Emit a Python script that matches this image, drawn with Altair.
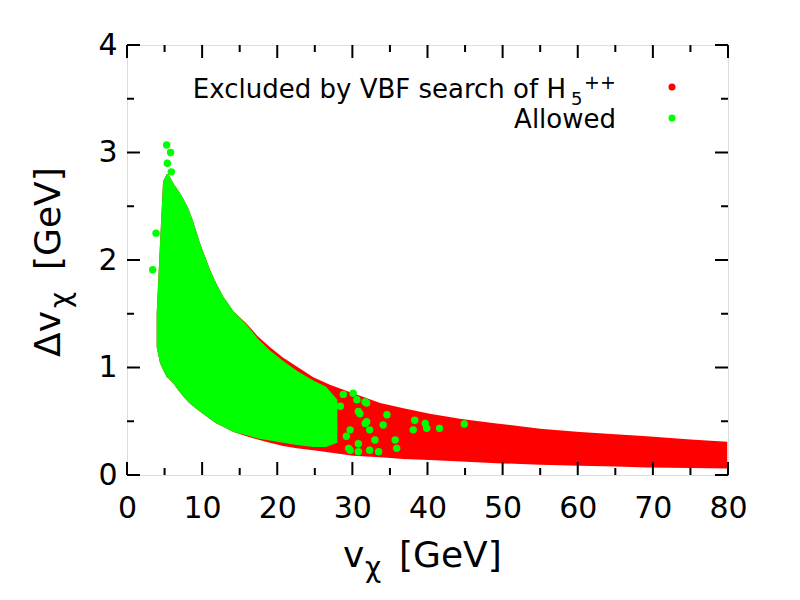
import altair as alt
import pandas as pd

# Band of excluded points (red): envelope
red_v     = [3.95, 4.4, 4.8, 5.3, 5.5, 6.2, 6.8, 7.5, 8.16, 8.8, 9.7, 10.3, 11.05, 11.9, 12.8, 14.2, 15.9, 17.4, 19.0, 20.8, 22.6, 24.8, 27.0, 30.1, 33.7, 36.8, 40.3, 44.5, 49.2, 55.0, 60.3, 65.0, 69.2, 75.0, 79.9]
red_upper = [1.50, 2.16, 2.73, 2.80, 2.80, 2.71, 2.65, 2.57, 2.48, 2.36, 2.16, 2.05, 1.91, 1.78, 1.66, 1.52, 1.41, 1.29, 1.19, 1.09, 1.01, 0.91, 0.84, 0.76, 0.67, 0.62, 0.57, 0.52, 0.48, 0.43, 0.40, 0.38, 0.36, 0.33, 0.31]
red_lower = [1.19, 1.04, 0.98, 0.91, 0.90, 0.85, 0.79, 0.73, 0.68, 0.64, 0.59, 0.56, 0.52, 0.48, 0.45, 0.40, 0.36, 0.33, 0.30, 0.27, 0.25, 0.23, 0.21, 0.18, 0.165, 0.15, 0.14, 0.125, 0.11, 0.095, 0.085, 0.078, 0.07, 0.065, 0.06]

# Solid allowed region (green)
grn_v     = [3.95, 4.4, 4.8, 5.3, 5.5, 6.2, 6.8, 7.5, 8.16, 8.8, 9.7, 10.3, 11.05, 11.9, 12.8, 14.2, 15.9, 17.4, 19.0, 20.8, 22.6, 24.8, 26.5, 28.0]
grn_upper = [1.50, 2.16, 2.73, 2.80, 2.80, 2.71, 2.65, 2.57, 2.48, 2.36, 2.16, 2.05, 1.91, 1.78, 1.66, 1.52, 1.40, 1.27, 1.16, 1.06, 0.97, 0.88, 0.82, 0.70]
grn_lower = [1.19, 1.04, 0.98, 0.91, 0.90, 0.85, 0.79, 0.73, 0.68, 0.64, 0.59, 0.56, 0.52, 0.48, 0.45, 0.40, 0.37, 0.34, 0.32, 0.30, 0.28, 0.26, 0.26, 0.30]

# Individual allowed points outside the solid region
pt_v = [5.28, 5.8, 5.37, 5.9, 3.86, 3.42, 44.9, 41.6, 39.7, 39.9, 38.3, 38.1, 35.7, 35.9, 34.6, 34.1,
        32.3, 33.0, 33.5, 30.8, 29.5, 31.9, 30.8, 31.7, 30.6, 32.3, 28.4, 29.2,
        30.1, 31.9, 31.0, 31.7, 29.7, 30.8, 29.7, 28.8, 27.5]
pt_d = [3.07, 3.00, 2.90, 2.82, 2.25, 1.91, 0.474, 0.434, 0.48, 0.434, 0.51, 0.42, 0.326, 0.248, 0.56, 0.465,
        0.42, 0.326, 0.217, 0.217, 0.248, 0.496, 0.59, 0.68, 0.70, 0.23, 0.64, 0.36,
        0.76, 0.67, 0.57, 0.48, 0.42, 0.29, 0.23, 0.75, 0.45]

x_major = [0, 10, 20, 30, 40, 50, 60, 70, 80]
x_minor = [5, 15, 25, 35, 45, 55, 65, 75]
y_major = [0, 1, 2, 3, 4]
y_minor = [0.5, 1.5, 2.5, 3.5]

FONT = "DejaVu Sans"
W, H = 601, 430

xs = alt.Scale(domain=[0, 80], nice=False, zero=False)
ys = alt.Scale(domain=[0, 4], nice=False, zero=False)

red_df = pd.DataFrame({"v": red_v, "hi": red_upper, "lo": red_lower})
grn_df = pd.DataFrame({"v": grn_v, "hi": grn_upper, "lo": grn_lower})
pts_df = pd.DataFrame({"v": pt_v, "d": pt_d})

xaxis = alt.Axis(values=x_major, ticks=False, domain=False, grid=False, labelFontSize=30,
                 labelFont=FONT, labelColor="black", labelPadding=18, labelFlush=False,
                 labelOverlap=False, format="d", title="")
yaxis = alt.Axis(values=y_major, ticks=False, domain=False, grid=False, labelFontSize=30,
                 labelFont=FONT, labelColor="black", labelPadding=10, labelFlush=False,
                 labelOverlap=False, format="d", title="")

red = alt.Chart(red_df).mark_area(color="#ff0000").encode(
    x=alt.X("v:Q", scale=xs, axis=xaxis),
    y=alt.Y("hi:Q", scale=ys, axis=yaxis),
    y2="lo:Q",
)
grn = alt.Chart(grn_df).mark_area(color="#00ff00").encode(
    x=alt.X("v:Q", scale=xs), y=alt.Y("hi:Q", scale=ys), y2="lo:Q"
)
pts = alt.Chart(pts_df).mark_circle(color="#00ff00", opacity=1, size=55).encode(
    x=alt.X("v:Q", scale=xs), y=alt.Y("d:Q", scale=ys)
)

def xticks(vals, length):
    df = pd.DataFrame({"t": vals})
    bot = alt.Chart(df).mark_rule(color="black", strokeWidth=2).encode(
        x=alt.X("t:Q", scale=xs), y=alt.value(H), y2=alt.value(H - length))
    top = alt.Chart(df).mark_rule(color="black", strokeWidth=2).encode(
        x=alt.X("t:Q", scale=xs), y=alt.value(0), y2=alt.value(length))
    return bot + top

def yticks(vals, length):
    df = pd.DataFrame({"t": vals})
    left = alt.Chart(df).mark_rule(color="black", strokeWidth=2).encode(
        y=alt.Y("t:Q", scale=ys), x=alt.value(0), x2=alt.value(length))
    right = alt.Chart(df).mark_rule(color="black", strokeWidth=2).encode(
        y=alt.Y("t:Q", scale=ys), x=alt.value(W), x2=alt.value(W - length))
    return left + right

ticks = xticks(x_major, 13) + xticks(x_minor, 7) + yticks(y_major, 13) + yticks(y_minor, 7)

one = pd.DataFrame({"a": [0]})

def txt(s, x, y, size, align="left", angle=0):
    kw = dict(align=align, baseline="alphabetic", font=FONT, fontSize=size, color="black", text=s)
    if angle:
        kw["angle"] = angle
    return alt.Chart(one).mark_text(**kw).encode(x=alt.value(x), y=alt.value(y))

# axis titles (with subscript chi)
xt = txt("v", 216, 522, 36) + txt("χ", 238, 532, 28) + txt("[GeV]", 272, 522, 36)
yt = (txt("Δv", -67, 312, 36, angle=270) + txt("χ", -57, 263, 28, angle=270)
      + txt("[GeV]", -67, 225, 36, angle=270))

# key
key = (txt("Excluded by VBF search of H", 439, 53, 26, align="right")
       + txt("5", 444, 60, 18) + txt("++", 457, 44, 19)
       + txt("Allowed", 489, 83, 26, align="right"))
dot1 = alt.Chart(one).mark_circle(color="#ff0000", opacity=1, size=50).encode(
    x=alt.value(545), y=alt.value(42))
dot2 = alt.Chart(one).mark_circle(color="#00ff00", opacity=1, size=50).encode(
    x=alt.value(545), y=alt.value(73))

chart = alt.layer(red, grn, pts, ticks, xt, yt, key, dot1, dot2).properties(
    width=W, height=H,
    autosize=alt.AutoSizeParams(type="none"),
    padding={"left": 119, "top": 37, "right": 60, "bottom": 120},
).configure_view(stroke="black", strokeWidth=2.5).configure(background="white")

chart.save("out.html", embed_options={"renderer": "svg", "actions": False})
